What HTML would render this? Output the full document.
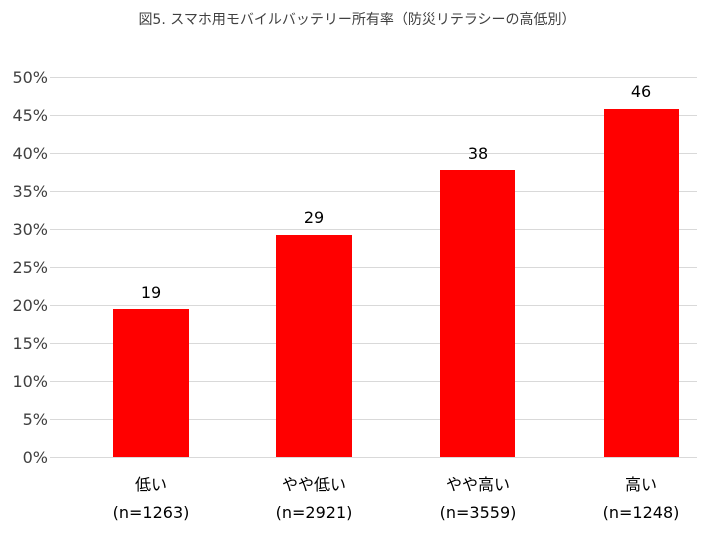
<!DOCTYPE html>
<html><head><meta charset="utf-8"><style>
body{margin:0;background:#fff;}
svg{display:block;font-family:"DejaVu Sans","Noto Sans CJK JP",sans-serif;}
</style></head><body>
<svg width="710" height="538" viewBox="0 0 710 538">
<text x="357" y="24" font-size="14" text-anchor="middle" fill="#404040">図5. スマホ用モバイルバッテリー所有率（防災リテラシーの高低別）</text>
<g stroke="#d9d9d9" stroke-width="1">
<line x1="50" x2="697" y1="77.5" y2="77.5"/>
<line x1="50" x2="697" y1="115.5" y2="115.5"/>
<line x1="50" x2="697" y1="153.5" y2="153.5"/>
<line x1="50" x2="697" y1="191.5" y2="191.5"/>
<line x1="50" x2="697" y1="229.5" y2="229.5"/>
<line x1="50" x2="697" y1="267.5" y2="267.5"/>
<line x1="50" x2="697" y1="305.5" y2="305.5"/>
<line x1="50" x2="697" y1="343.5" y2="343.5"/>
<line x1="50" x2="697" y1="381.5" y2="381.5"/>
<line x1="50" x2="697" y1="419.5" y2="419.5"/>
<line x1="50" x2="697" y1="457.5" y2="457.5"/>
</g>
<g font-size="16" fill="#404040" text-anchor="end">
<text x="48" y="83">50%</text><text x="48" y="121">45%</text><text x="48" y="159">40%</text>
<text x="48" y="197">35%</text><text x="48" y="235">30%</text><text x="48" y="273">25%</text>
<text x="48" y="311">20%</text><text x="48" y="349">15%</text><text x="48" y="387">10%</text>
<text x="48" y="425">5%</text><text x="48" y="463">0%</text>
</g>
<g fill="#ff0000">
<rect x="113" y="309" width="76" height="148"/>
<rect x="276" y="235" width="76" height="222"/>
<rect x="440" y="170" width="75" height="287"/>
<rect x="604" y="109" width="75" height="348"/>
</g>
<g font-size="16" fill="#000" text-anchor="middle">
<text x="151" y="298">19</text><text x="314" y="223">29</text>
<text x="478" y="159">38</text><text x="641" y="97">46</text>
</g>
<g font-size="16" fill="#000" text-anchor="middle">
<text x="151" y="490">低い</text><text x="151" y="518">(n=1263)</text>
<text x="314" y="490">やや低い</text><text x="314" y="518">(n=2921)</text>
<text x="478" y="490">やや高い</text><text x="478" y="518">(n=3559)</text>
<text x="641" y="490">高い</text><text x="641" y="518">(n=1248)</text>
</g>
</svg>
</body></html>
